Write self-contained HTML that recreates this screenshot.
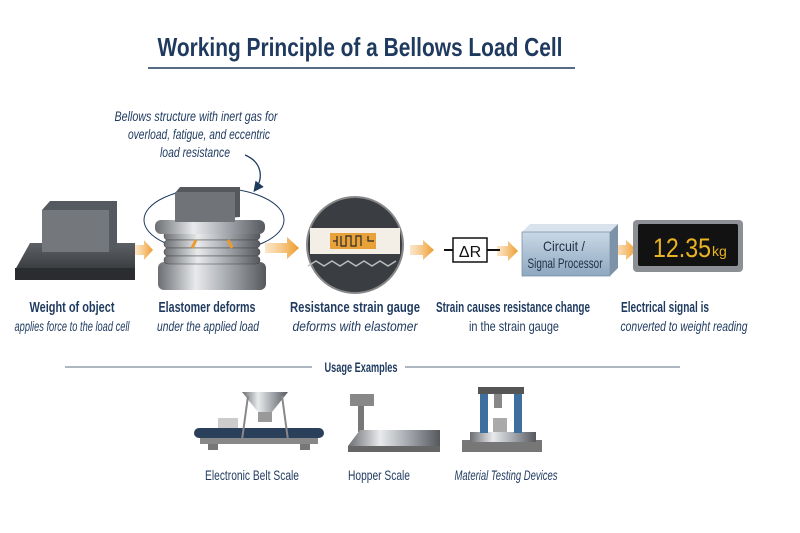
<!DOCTYPE html>
<html><head><meta charset="utf-8"><style>
html,body{margin:0;padding:0;background:#fff;width:800px;height:533px;overflow:hidden}
text{font-family:"Liberation Sans Narrow","Liberation Sans",sans-serif}
</style></head><body>
<svg width="800" height="533" viewBox="0 0 800 533" xmlns="http://www.w3.org/2000/svg">
<defs>
<linearGradient id="met" x1="0" x2="1"><stop offset="0" stop-color="#6b6e72"/><stop offset=".35" stop-color="#e8eaec"/><stop offset=".7" stop-color="#9a9ea3"/><stop offset="1" stop-color="#55585c"/></linearGradient>
<linearGradient id="blk" x1="0" y1="0" x2="0" y2="1"><stop offset="0" stop-color="#5d6065"/><stop offset="1" stop-color="#2c2e31"/></linearGradient>
<linearGradient id="blu" x1="0" y1="0" x2="0" y2="1"><stop offset="0" stop-color="#c9d8e6"/><stop offset="1" stop-color="#8ea8c0"/></linearGradient>
<linearGradient id="org" x1="0" x2="1"><stop offset="0" stop-color="#f6c27a" stop-opacity=".4"/><stop offset="1" stop-color="#ee9a2a"/></linearGradient>
<marker id="ah" markerWidth="8" markerHeight="8" refX="6" refY="4" orient="auto"><path d="M0,0 L8,4 L0,8 Z" fill="#1f3a5f"/></marker>
</defs>
<text x="360" y="56" text-anchor="middle" font-size="26" font-weight="bold" fill="#1f3a5f" textLength="405" lengthAdjust="spacingAndGlyphs">Working Principle of a Bellows Load Cell</text>
<line x1="148" y1="68" x2="575" y2="68" stroke="#1f3a5f" stroke-width="1.5"/>

<g font-size="14" fill="#1f3a5f" text-anchor="middle" font-style="italic">
<text x="196" y="121" textLength="163" lengthAdjust="spacingAndGlyphs">Bellows structure with inert gas for</text>
<text x="199" y="139" textLength="142" lengthAdjust="spacingAndGlyphs">overload, fatigue, and eccentric</text>
<text x="195" y="157" textLength="70" lengthAdjust="spacingAndGlyphs">load resistance</text>
</g>
<path d="M245,155 C262,162 264,178 255,190" fill="none" stroke="#1f3a5f" stroke-width="1.3" marker-end="url(#ah)"/>

<polygon points="15,270 30,243 135,243 135,270 125,280 15,280" fill="url(#blk)"/>
<rect x="15" y="268" width="120" height="12" fill="#2a2c2f"/>
<polygon points="42,210 50,201 117,201 117,245 109,252 42,252" fill="#555a60"/>
<rect x="42" y="210" width="67" height="42" fill="#74787d"/>

<g fill="url(#org)">
<polygon points="135,245 144,245 144,240 153,250 144,260 144,255 135,255"/>
<polygon points="265,243 287,243 287,237 299,248 287,259 287,253 265,253"/>
<polygon points="410,245 423,245 423,240 434,250 423,260 423,255 410,255"/>
<polygon points="497,246 508,246 508,241 518,251 508,261 508,256 497,256"/>
<polygon points="613,245 626,245 626,240 637,250 626,260 626,255 613,255"/>
</g>

<ellipse cx="214" cy="220" rx="70" ry="32" fill="none" stroke="#1f3a5f" stroke-width="1"/>
<rect x="158" y="262" width="108" height="28" rx="6" fill="url(#met)"/>
<g fill="url(#met)" stroke="#444" stroke-width=".6">
<rect x="164" y="232" width="96" height="8" rx="4"/>
<rect x="164" y="240" width="96" height="8" rx="4"/>
<rect x="164" y="248" width="96" height="8" rx="4"/>
<rect x="164" y="256" width="96" height="8" rx="4"/>
</g>
<rect x="155" y="220" width="110" height="14" rx="6" fill="url(#met)"/>
<polygon points="175,193 180,187 240,187 240,217 175,222" fill="#55595e"/>
<rect x="175" y="192" width="60" height="30" fill="#707479"/>
<path d="M192,248 l4,-8 M232,248 l-4,-8" stroke="#ee9a2a" stroke-width="3"/>

<circle cx="355" cy="245" r="48" fill="#3a3d42" stroke="#888" stroke-width="2"/>
<rect x="310" y="228" width="90" height="26" fill="#f3efe6"/>
<rect x="330" y="233" width="46" height="16" fill="#e9a23a"/>
<path d="M333,241 h4 M337,236 v10 M341,236 v10 h5 v-10 h5 v10 h5 v-10 h5 v10 M368,236 v5 h6" stroke="#2a2a2a" stroke-width="1.2" fill="none"/>
<path d="M308,266 l8,-5 8,5 8,-5 8,5 8,-5 8,5 8,-5 8,5 8,-5 8,5 8,-5" stroke="#bbb" fill="none" stroke-width="1.5"/>

<line x1="444" y1="250" x2="500" y2="250" stroke="#111" stroke-width="2"/>
<rect x="453" y="238" width="34" height="24" fill="#fff" stroke="#111" stroke-width="1.5"/>
<text x="470" y="257" text-anchor="middle" font-size="16" fill="#111">ΔR</text>

<polygon points="522,232 530,224 618,224 610,232" fill="#d8e3ee"/>
<polygon points="610,232 618,224 618,268 610,276" fill="#7d93a8"/>
<rect x="522" y="232" width="88" height="44" fill="url(#blu)" stroke="#7d93a8" stroke-width=".8"/>
<text x="564" y="251" text-anchor="middle" font-size="14" fill="#1f2f44" textLength="42" lengthAdjust="spacingAndGlyphs">Circuit /</text>
<text x="565" y="268" text-anchor="middle" font-size="14" fill="#1f2f44" textLength="75" lengthAdjust="spacingAndGlyphs">Signal Processor</text>

<rect x="633" y="220" width="110" height="52" rx="4" fill="#8c8f93"/>
<rect x="638" y="224" width="100" height="42" rx="2" fill="#121212"/>
<text x="653" y="257" font-size="27" fill="#e8b423" font-family="Liberation Mono,monospace" textLength="58" lengthAdjust="spacingAndGlyphs">12.35</text>
<text x="712" y="256" font-size="14" fill="#e8b423">kg</text>

<g font-size="15" font-weight="bold" fill="#1f3a5f" text-anchor="middle">
<text x="72" y="312" textLength="85" lengthAdjust="spacingAndGlyphs">Weight of object</text>
<text x="207" y="312" textLength="97" lengthAdjust="spacingAndGlyphs">Elastomer deforms</text>
<text x="355" y="312" textLength="130" lengthAdjust="spacingAndGlyphs">Resistance strain gauge</text>
<text x="513" y="312" textLength="154" lengthAdjust="spacingAndGlyphs">Strain causes resistance change</text>
<text x="665" y="312" textLength="88" lengthAdjust="spacingAndGlyphs">Electrical signal is</text>
</g>
<g font-size="14" fill="#1f3a5f" text-anchor="middle" font-style="italic">
<text x="72" y="331" textLength="115" lengthAdjust="spacingAndGlyphs">applies force to the load cell</text>
<text x="208" y="331" textLength="102" lengthAdjust="spacingAndGlyphs">under the applied load</text>
<text x="355" y="331" textLength="125" lengthAdjust="spacingAndGlyphs">deforms with elastomer</text>
<text x="514" y="331" font-style="normal" textLength="90" lengthAdjust="spacingAndGlyphs">in the strain gauge</text>
<text x="684" y="331" textLength="127" lengthAdjust="spacingAndGlyphs">converted to weight reading</text>
</g>

<line x1="65" y1="367" x2="312" y2="367" stroke="#7d8a99" stroke-width="1.2"/>
<line x1="405" y1="367" x2="680" y2="367" stroke="#7d8a99" stroke-width="1.2"/>
<text x="361" y="372" text-anchor="middle" font-size="14" font-weight="bold" fill="#1f3a5f" textLength="73" lengthAdjust="spacingAndGlyphs">Usage Examples</text>

<rect x="194" y="428" width="130" height="10" rx="5" fill="#2a3f5a"/>
<rect x="200" y="438" width="118" height="6" fill="#888"/>
<rect x="218" y="418" width="20" height="10" fill="#ccc"/>
<polygon points="242,392 288,392 272,412 258,412" fill="url(#met)"/>
<rect x="258" y="412" width="14" height="10" fill="#999"/>
<path d="M248,396 L242,440 M282,396 L288,440" stroke="#888" stroke-width="2"/>
<rect x="208" y="444" width="10" height="6" fill="#777"/><rect x="300" y="444" width="10" height="6" fill="#777"/>

<rect x="350" y="394" width="24" height="12" fill="#888"/>
<rect x="358" y="406" width="6" height="26" fill="#777"/>
<polygon points="348,446 360,430 440,430 440,446" fill="url(#met)"/>
<rect x="348" y="446" width="92" height="6" fill="#666"/>

<rect x="462" y="440" width="80" height="12" fill="#777"/>
<rect x="470" y="432" width="66" height="10" fill="url(#met)"/>
<rect x="480" y="387" width="8" height="46" fill="#3f6f9f"/>
<rect x="514" y="387" width="8" height="46" fill="#3f6f9f"/>
<rect x="478" y="387" width="46" height="7" fill="#555"/>
<rect x="494" y="394" width="8" height="14" fill="#888"/>
<rect x="493" y="418" width="14" height="14" fill="#aaa"/>

<g font-size="14" fill="#1f3a5f" text-anchor="middle">
<text x="252" y="480" textLength="94" lengthAdjust="spacingAndGlyphs">Electronic Belt Scale</text>
<text x="379" y="480" textLength="62" lengthAdjust="spacingAndGlyphs">Hopper Scale</text>
<text x="506" y="480" font-style="italic" textLength="103" lengthAdjust="spacingAndGlyphs">Material Testing Devices</text>
</g>
</svg>
</body></html>
